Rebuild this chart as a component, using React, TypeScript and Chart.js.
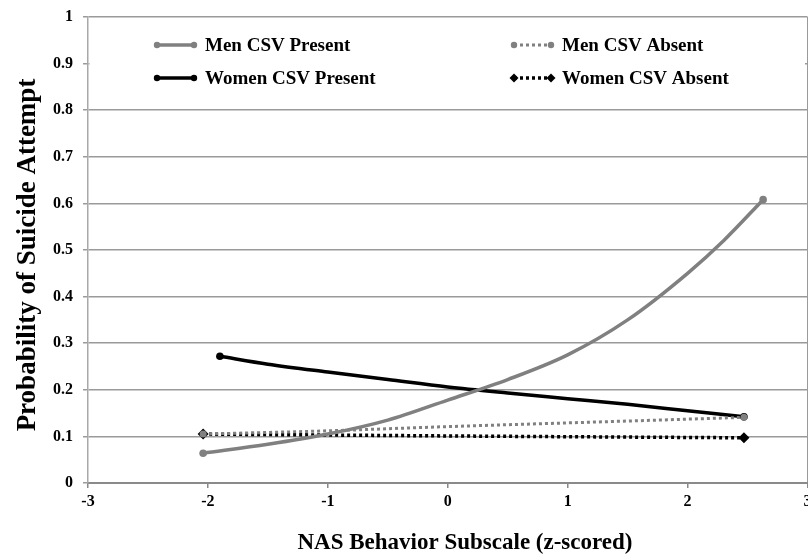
import React, { useEffect, useRef } from "react";
import { Chart, registerables } from "chart.js";

Chart.register(...registerables);

// ---- Axis ticks ----
const xTicks = [-3, -2, -1, 0, 1, 2, 3];
const xTickLabels = ["-3", "-2", "-1", "0", "1", "2", "3"];
const yTicks = [0, 0.1, 0.2, 0.3, 0.4, 0.5, 0.6, 0.7, 0.8, 0.9, 1];
const yTickLabels = ["0", "0.1", "0.2", "0.3", "0.4", "0.5", "0.6", "0.7", "0.8", "0.9", "1"];

// ---- Series ----
const menPresentX = [-2.04, -1.5, -1, -0.5, 0, 0.5, 1, 1.5, 2, 2.3, 2.63];
const menPresentY = [0.064, 0.083, 0.105, 0.135, 0.178, 0.222, 0.275, 0.35, 0.45, 0.52, 0.608];

const menAbsentX = [-2.04, -1, 0, 1, 2, 2.47];
const menAbsentY = [0.105, 0.112, 0.121, 0.129, 0.137, 0.141];

const womenPresentX = [-1.9, -1.5, -1, -0.5, 0, 0.5, 1, 1.5, 2, 2.47];
const womenPresentY = [0.272, 0.255, 0.238, 0.222, 0.206, 0.193, 0.181, 0.169, 0.155, 0.142];

const womenAbsentX = [-2.04, 0, 2.47];
const womenAbsentY = [0.105, 0.101, 0.097];

const seriesNames = ["Men CSV Present", "Men CSV Absent", "Women CSV Present", "Women CSV Absent"];
const xTitle = "NAS Behavior Subscale (z-scored)";
const yTitle = "Probability of Suicide Attempt";

const GRAY = "#808080";
const BLACK = "#000000";
const SERIF = '"Liberation Serif", "Times New Roman", serif';

const pts = (xs: number[], ys: number[]) => xs.map((x, i) => ({ x, y: ys[i] }));
const endsOnly = (r: number) => (ctx: any) => {
  const n = ctx.dataset.data.length;
  return ctx.dataIndex === 0 || ctx.dataIndex === n - 1 ? r : 0;
};

function drawMarker(ctx: CanvasRenderingContext2D, style: string, x: number, y: number, r: number, color: string) {
  ctx.fillStyle = color;
  ctx.beginPath();
  if (style === "rectRot") {
    ctx.moveTo(x, y - r);
    ctx.lineTo(x + r, y);
    ctx.lineTo(x, y + r);
    ctx.lineTo(x - r, y);
    ctx.closePath();
  } else {
    ctx.arc(x, y, r, 0, Math.PI * 2);
  }
  ctx.fill();
}

const insideLegend = {
  id: "insideLegend",
  afterDraw(chart: any) {
    const ctx: CanvasRenderingContext2D = chart.ctx;
    const area = chart.chartArea;
    ctx.save();
    ctx.fillStyle = "#ffffff";
    ctx.fillRect(area.left + 1.5, area.top + 3, area.right - area.left - 4, 86);
    const colX = [157, 514];
    const rowY = [45, 78];
    chart.data.datasets.forEach((ds: any, i: number) => {
      const x0 = colX[i % 2];
      const y = rowY[Math.floor(i / 2)];
      const len = 37;
      ctx.strokeStyle = ds.borderColor;
      ctx.lineWidth = ds.borderWidth;
      ctx.setLineDash(ds.borderDash || []);
      ctx.beginPath();
      ctx.moveTo(x0, y);
      ctx.lineTo(x0 + len, y);
      ctx.stroke();
      ctx.setLineDash([]);
      const r = ds.pointStyle === "rectRot" ? 4.5 : 3.2;
      drawMarker(ctx, ds.pointStyle, x0, y, r, ds.borderColor);
      drawMarker(ctx, ds.pointStyle, x0 + len, y, r, ds.borderColor);
      ctx.fillStyle = "#000";
      ctx.font = `bold 19px ${SERIF}`;
      ctx.textAlign = "left";
      ctx.textBaseline = "middle";
      ctx.fillText(ds.label, x0 + 48, y + 1);
    });
    ctx.restore();
  },
};

const axisTitles = {
  id: "axisTitles",
  afterDraw(chart: any) {
    const ctx: CanvasRenderingContext2D = chart.ctx;
    ctx.save();
    ctx.fillStyle = "#000";
    ctx.font = `bold 23px ${SERIF}`;
    ctx.textAlign = "center";
    ctx.textBaseline = "alphabetic";
    ctx.fillText(xTitle, 465, 549);
    ctx.translate(35, 255);
    ctx.rotate(-Math.PI / 2);
    ctx.font = `bold 27px ${SERIF}`;
    ctx.fillText(yTitle, 0, 0);
    ctx.restore();
  },
};

const TARGET_RIGHT = 807;
const BASE_W = 808;

export default function App() {
  const ref = useRef<HTMLCanvasElement | null>(null);

  useEffect(() => {
    if (!ref.current) return;
    const tickFont = { family: SERIF, size: 16, weight: "bold" as const };
    const chart = new Chart(ref.current, {
      type: "line",
      data: {
        datasets: [
          {
            label: seriesNames[0],
            data: pts(menPresentX, menPresentY),
            borderColor: GRAY,
            backgroundColor: GRAY,
            borderWidth: 3.5,
            pointStyle: "circle",
            pointRadius: endsOnly(3.8),
            pointBackgroundColor: GRAY,
            pointBorderWidth: 0,
            cubicInterpolationMode: "monotone",
          },
          {
            label: seriesNames[1],
            data: pts(menAbsentX, menAbsentY),
            borderColor: GRAY,
            backgroundColor: GRAY,
            borderWidth: 3,
            borderDash: [3, 3],
            pointStyle: "circle",
            pointRadius: endsOnly(3.5),
            pointBackgroundColor: GRAY,
            pointBorderWidth: 0,
            cubicInterpolationMode: "monotone",
          },
          {
            label: seriesNames[2],
            data: pts(womenPresentX, womenPresentY),
            borderColor: BLACK,
            backgroundColor: BLACK,
            borderWidth: 3.5,
            pointStyle: "circle",
            pointRadius: endsOnly(3.8),
            pointBackgroundColor: BLACK,
            pointBorderWidth: 0,
            cubicInterpolationMode: "monotone",
          },
          {
            label: seriesNames[3],
            data: pts(womenAbsentX, womenAbsentY),
            borderColor: BLACK,
            backgroundColor: BLACK,
            borderWidth: 3.5,
            borderDash: [3, 3],
            pointStyle: "rectRot",
            pointRadius: endsOnly(5.5),
            pointBackgroundColor: BLACK,
            pointBorderWidth: 0,
            cubicInterpolationMode: "monotone",
          },
        ],
      },
      options: {
        animation: false,
        responsive: false,
        maintainAspectRatio: false,
        layout: { padding: { top: 17, right: 0, left: 0, bottom: 0 } },
        plugins: { legend: { display: false }, tooltip: { enabled: false } },
        scales: {
          x: {
            type: "linear",
            min: -3,
            max: 3,
            afterBuildTicks: (s: any) => {
              s.ticks = xTicks.map((v) => ({ value: v }));
            },
            afterFit: (s: any) => {
              s.height = 71;
              s.paddingLeft = 0;
              s.paddingRight = 0;
            },
            ticks: {
              autoSkip: false,
              maxRotation: 0,
              padding: 4,
              color: "#000",
              font: tickFont,
              callback: (v: any) => xTickLabels[xTicks.indexOf(Number(v))],
            },
            grid: {
              color: (c: any) => (c.tick && c.tick.value === 3 ? "#9a9a9a" : "rgba(0,0,0,0)"),
              tickColor: "#8a8a8a",
              tickLength: 5,
              lineWidth: 1.5,
            },
            border: { color: "#8a8a8a", width: 2 },
          },
          y: {
            type: "linear",
            min: 0,
            max: 1,
            afterBuildTicks: (s: any) => {
              s.ticks = yTicks.map((v) => ({ value: v }));
            },
            afterFit: (s: any) => {
              s.width = 88;
              s.paddingTop = 0;
              s.paddingBottom = 0;
            },
            ticks: {
              autoSkip: false,
              padding: 10,
              color: "#000",
              font: tickFont,
              callback: (v: any) => yTickLabels[yTicks.indexOf(Number(v))],
            },
            grid: {
              color: "#9a9a9a",
              tickColor: "#9a9a9a",
              tickLength: 5,
              lineWidth: 1.5,
            },
            border: { color: "#a8a8a8", width: 1.5 },
          },
        },
      },
      plugins: [insideLegend, axisTitles],
    });

    // make sure the plot's right edge lands where the reference has it
    const gap = BASE_W - chart.chartArea.right;
    const want = BASE_W - TARGET_RIGHT;
    if (Math.abs(gap - want) > 0.25) {
      chart.resize(Math.round(BASE_W + (gap - want)), 554);
    }

    return () => chart.destroy();
  }, []);

  return (
    <div
      style={{
        position: "absolute",
        left: 0,
        top: 0,
        width: 808,
        height: 554,
        overflow: "hidden",
        background: "#fff",
      }}
    >
      <canvas ref={ref} width={BASE_W} height={554} style={{ display: "block" }} />
    </div>
  );
}
